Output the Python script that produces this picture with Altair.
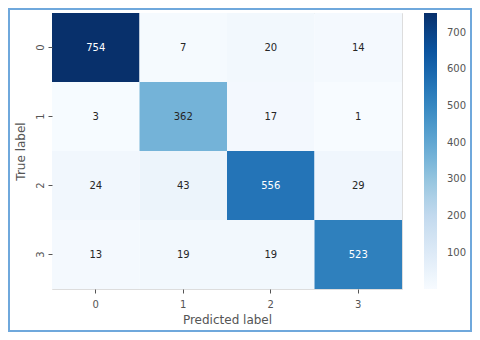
import altair as alt
import pandas as pd
import numpy as np

true_labels = ["0", "1", "2", "3"]
pred_labels = ["0", "1", "2", "3"]
counts = [
    [754, 7, 20, 14],
    [3, 362, 17, 1],
    [24, 43, 556, 29],
    [13, 19, 19, 523],
]
legend_ticks = [100, 200, 300, 400, 500, 600, 700]
blues = ["#f7fbff", "#deebf7", "#c6dbef", "#9ecae1", "#6baed6",
         "#4292c6", "#2171b5", "#08519c", "#08306b"]

rows = []
for i, t in enumerate(true_labels):
    for j, p in enumerate(pred_labels):
        rows.append({"true": t, "pred": p, "v": counts[i][j]})
df = pd.DataFrame(rows)

vmin = min(min(r) for r in counts)
vmax = max(max(r) for r in counts)
stops = list(np.linspace(vmin, vmax, len(blues)))

FONT = "DejaVu Sans"
GRAY = "#555555"

base = alt.Chart(df)

heat = base.mark_rect().encode(
    x=alt.X("pred:O", sort=pred_labels, title="Predicted label",
            scale=alt.Scale(paddingInner=0, paddingOuter=0),
            axis=alt.Axis(labelAngle=0, domain=False, tickSize=4, tickColor=GRAY,
                          labelPadding=6, labelFontSize=10, labelColor=GRAY,
                          titleFontSize=12, titleFontWeight="normal", titleColor=GRAY,
                          titlePadding=5, labelFont=FONT, titleFont=FONT)),
    y=alt.Y("true:O", sort=true_labels, title="True label",
            scale=alt.Scale(paddingInner=0, paddingOuter=0),
            axis=alt.Axis(labelAngle=270, labelAlign="center", labelBaseline="bottom",
                          domain=False, tickSize=4, tickColor=GRAY,
                          labelPadding=3, labelFontSize=10, labelColor=GRAY,
                          titleFontSize=12, titleFontWeight="normal", titleColor=GRAY,
                          titlePadding=8, labelFont=FONT, titleFont=FONT)),
    color=alt.Color("v:Q", scale=alt.Scale(domain=stops, range=blues),
                    legend=alt.Legend(orient="none", legendX=372, legendY=0,
                                      direction="vertical", title=None,
                                      gradientLength=276, gradientThickness=13,
                                      gradientStrokeWidth=0, values=legend_ticks,
                                      labelFontSize=10, labelColor=GRAY, labelFont=FONT,
                                      labelOffset=10)),
)

text = base.mark_text(font=FONT, fontSize=10).encode(
    x=alt.X("pred:O", sort=pred_labels),
    y=alt.Y("true:O", sort=true_labels),
    text="v:Q",
    color=alt.condition(alt.datum.v > 450, alt.value("#ffffff"), alt.value("#262626")),
)

frame = alt.Chart(pd.DataFrame({"a": [0]})).mark_rect(
    fill=None, stroke="#6fa8dc", strokeWidth=2
).encode(
    x=alt.value(-43), x2=alt.value(419),
    y=alt.value(-4), y2=alt.value(318),
)

chart = alt.layer(heat, text, frame).properties(
    width=350, height=276,
    autosize=alt.AutoSizeParams(type="none"),
    padding={"left": 44, "top": 5, "right": 70, "bottom": 43},
).configure_view(stroke=None).configure(background="white")

chart.save("out.html", embed_options={"renderer": "svg", "actions": False})
